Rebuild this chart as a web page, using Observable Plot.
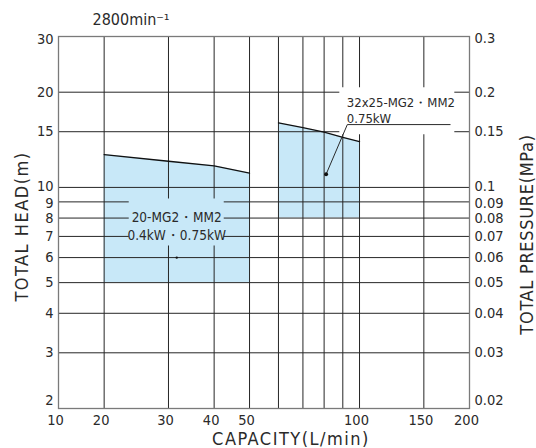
<!DOCTYPE html>
<html><head><meta charset="utf-8">
<script src="https://cdn.jsdelivr.net/npm/d3@7"></script>
<script src="https://cdn.jsdelivr.net/npm/@observablehq/plot@0.6"></script>
<style>
body{margin:0;background:#fff;}
svg text{font-family:"DejaVu Sans Condensed","DejaVu Sans",sans-serif;}
</style></head><body><div id="chart"></div>
<script>
const speedLabel = "2800min⁻¹";
const xTitle = "CAPACITY(L/min)";
const yTitle = "TOTAL HEAD(m)";
const y2Title = "TOTAL PRESSURE(MPa)";
const capacityTicks = [10, 20, 30, 40, 50, 100, 150, 200];
const capacityGrid = [20, 30, 40, 50, 60, 70, 80, 90, 100, 150];
const headTicks = [2, 3, 4, 5, 6, 7, 8, 9, 10, 15, 20, 30];
const pressureLabels = ["0.02","0.03","0.04","0.05","0.06","0.07","0.08","0.09","0.1","0.15","0.2","0.3"];
const headGrid = [3, 4, 5, 6, 7, 8, 9, 10, 15, 20];
const smallQ = [20, 30, 40, 50];
const smallHead = [12.7, 12.1, 11.7, 11.1];
const smallMinHead = 5;
const largeQ = [60, 70, 80, 90, 100];
const largeHead = [16.0, 15.45, 14.95, 14.4, 13.95];
const largeMinHead = 8;
const smallLabel = "20-MG2・MM2\n0.4kW・0.75kW";
const smallLabelAt = [31.6, 7.58];
const smallMarker = [31.6, 6];
const largeLabel = "32x25-MG2・MM2\n0.75kW";
const largeLabelAt = [92.3, 17.6];
const leaderQ = [81, 92.6, 177];
const leaderHead = [11, 15.8, 15.8];

// axis break below 20 L/min: 10 is drawn at the left edge
const brk = q => q >= 20 ? q : 20 * Math.pow(0.75, (20 - q) / 10);

const small = smallQ.map((q, i) => ({q, head: smallHead[i], min: smallMinHead}));
const large = largeQ.map((q, i) => ({q, head: largeHead[i], min: largeMinHead}));
const leader = leaderQ.map((q, i) => ({q, head: leaderHead[i]}));
const headTickData = headTicks.map((h, i) => ({h, p: pressureLabels[i]}));
const inner = headTickData.filter(d => d.h !== 2 && d.h !== 30 && d.h !== 9 && d.h !== 10);
const tenTick = headTickData.filter(d => d.h === 10);
const nineTick = headTickData.filter(d => d.h === 9);
const bottomTick = headTickData.filter(d => d.h === 2);
const topTick = headTickData.filter(d => d.h === 30);

const blue = "#c8e8f8";
const ink = "#2a2a2a";
const grid = "#262626";
const fs = 14.5;

const leftTicks = (data, dy) => Plot.text(data, {y: "h", text: d => String(d.h), frameAnchor: "left", textAnchor: "end", lineAnchor: "middle", dx: -5, dy, fontSize: fs, fill: ink});
const rightTicks = (data, dy) => Plot.text(data, {y: "h", text: "p", frameAnchor: "right", textAnchor: "start", lineAnchor: "middle", dx: 5, dy, fontSize: fs, fill: ink});

const chart = Plot.plot({
  width: 536, height: 448,
  marginLeft: 58, marginRight: 67, marginTop: 36, marginBottom: 40,
  x: {type: "log", domain: [brk(10), 200], axis: null},
  y: {type: "log", domain: [2, 30], axis: null},
  style: {fontFamily: "DejaVu Sans Condensed, DejaVu Sans, sans-serif", color: ink, background: "#fff"},
  marks: [
    Plot.areaY(small, {x: d => brk(d.q), y1: "min", y2: "head", fill: blue}),
    Plot.areaY(large, {x: d => brk(d.q), y1: "min", y2: "head", fill: blue}),
    Plot.ruleX(capacityGrid, {x: d => brk(d), stroke: grid, strokeWidth: 1}),
    Plot.ruleY(headGrid, {y: d => d, stroke: grid, strokeWidth: 1}),
    Plot.line(small, {x: d => brk(d.q), y: "head", stroke: "#111", strokeWidth: 1.3}),
    Plot.line(large, {x: d => brk(d.q), y: "head", stroke: "#111", strokeWidth: 1.3}),
    Plot.frame({stroke: "#7a7a7a", strokeWidth: 1.3}),
    // label backgrounds
    Plot.rect([smallLabelAt], {x1: d => brk(d[0]), x2: d => brk(d[0]), y1: d => d[1], y2: d => d[1],
      insetLeft: -47.5, insetRight: -47.5, insetTop: -26.5, insetBottom: -20.5, fill: blue}),
    Plot.rect([largeLabelAt], {x1: d => brk(d[0]), x2: d => brk(d[0]), y1: d => d[1], y2: d => d[1],
      insetLeft: -7, insetRight: -108, insetTop: -22, insetBottom: -25, fill: "#fff"}),
    Plot.text([smallLabel], {x: brk(smallLabelAt[0]), y: smallLabelAt[1], text: d => d, fontSize: 13.5, lineHeight: 1.35, fill: ink}),
    Plot.dot([smallMarker], {x: d => brk(d[0]), y: d => d[1], r: 1.2, fill: "#111"}),
    Plot.text([largeLabel], {x: brk(largeLabelAt[0]), y: largeLabelAt[1], text: d => d, textAnchor: "start", fontSize: 13, lineHeight: 1.22, fill: ink}),
    Plot.line(leader, {x: d => brk(d.q), y: "head", stroke: ink, strokeWidth: 1}),
    Plot.dot([leader[0]], {x: d => brk(d.q), y: "head", r: 2, fill: "#111"}),
    // tick labels
    Plot.text(capacityTicks, {x: d => brk(d), text: d => String(d), frameAnchor: "bottom", lineAnchor: "middle", dy: 12, dx: -3, fontSize: fs, fill: ink}),
    leftTicks(inner, 0), leftTicks(tenTick, -1), leftTicks(nineTick, 1), leftTicks(bottomTick, -8), leftTicks(topTick, 3),
    rightTicks(inner, 0), rightTicks(tenTick, -1), rightTicks(nineTick, 1.5), rightTicks(bottomTick, -8), rightTicks(topTick, 2),
    // titles
    Plot.text([speedLabel], {frameAnchor: "top-left", textAnchor: "start", lineAnchor: "middle", dx: 34, dy: -17, fontSize: 16, fill: ink, text: d => d}),
    Plot.text([xTitle], {frameAnchor: "bottom", textAnchor: "middle", lineAnchor: "middle", dx: 27, dy: 31, fontSize: 18, fill: ink, text: d => d}),
    Plot.text([yTitle], {frameAnchor: "left", textAnchor: "middle", lineAnchor: "middle", dx: -36, dy: 4, rotate: -90, fontSize: 18, fill: ink, text: d => d}),
    Plot.text([y2Title], {frameAnchor: "right", textAnchor: "middle", lineAnchor: "middle", dx: 58, dy: 12, rotate: -90, fontSize: 18, fill: ink, text: d => d})
  ]
});
// letter-spaced titles, as in the reference lettering
const svgSel = d3.select(chart);
svgSel.selectAll("text").filter(function() {
  const t = this.textContent;
  return t === xTitle || t === yTitle;
}).style("letter-spacing", "1.5px");
svgSel.selectAll("text").filter(function() {
  return this.textContent === y2Title;
}).style("letter-spacing", "0.7px");
document.getElementById("chart").appendChild(chart);
</script></body></html>
